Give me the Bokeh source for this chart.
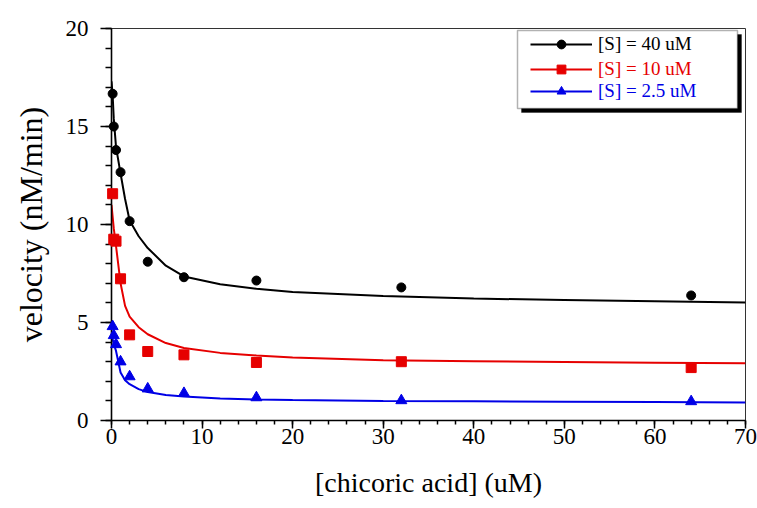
from bokeh.plotting import figure
from bokeh.models import Range1d, SingleIntervalTicker, Legend, LegendItem, BoxAnnotation
from bokeh.embed import file_html
from bokeh.resources import INLINE

# measured points: [chicoric acid] (uM) vs velocity (nM/min)
conc = [0.125, 0.25, 0.5, 1, 2, 4, 8, 16, 32, 64]
v_40 = [16.67, 15.0, 13.8, 12.67, 10.17, 8.1, 7.31, 7.14, 6.79, 6.38]
v_10 = [11.57, 9.25, 9.15, 7.23, 4.37, 3.52, 3.35, 2.96, 3.0, 2.7]
v_2_5 = [4.8, 4.34, 3.88, 3.0, 2.24, 1.62, 1.39, 1.17, 1.02, 0.97]

# fitted curves
fit_x = [0, 0.125, 0.25, 0.5, 1, 1.5, 2, 3, 4, 6, 8, 12, 16, 20, 30, 40, 50, 60, 70]
fit_40 = [17.3, 16.6, 15.4, 13.95, 12.6, 11.3, 10.2, 9.4, 8.8, 7.9, 7.35, 6.95, 6.72, 6.55,
          6.35, 6.22, 6.15, 6.08, 6.02]
fit_10 = [11.0, 10.4, 9.8, 8.9, 7.0, 5.85, 5.3, 4.76, 4.4, 3.95, 3.7, 3.45, 3.32, 3.22,
          3.07, 3.02, 2.98, 2.95, 2.92]
fit_2_5 = [4.4, 4.15, 3.9, 3.55, 2.45, 2.05, 1.85, 1.6, 1.45, 1.3, 1.22, 1.12, 1.07, 1.04,
           1.0, 0.98, 0.96, 0.94, 0.92]

labels = ["[S] = 40 uM", "[S] = 10 uM", "[S] = 2.5 uM"]
colors = ["#000000", "#e60000", "#0000e6"]
markers = ["circle", "square", "triangle"]
sizes = [9, 10, 11]

SERIF = "Liberation Serif"

p = figure(width=757, height=508, output_backend="svg", toolbar_location=None,
           x_range=Range1d(0, 70), y_range=Range1d(0, 20),
           min_border_left=111, min_border_right=12, min_border_top=28, min_border_bottom=88)
p.xgrid.visible = False
p.ygrid.visible = False
p.background_fill_color = "white"
p.outline_line_color = "#333333"
p.outline_line_width = 1

p.xaxis.ticker = SingleIntervalTicker(interval=10, num_minor_ticks=5)
p.yaxis.ticker = SingleIntervalTicker(interval=5, num_minor_ticks=5)

for ax in (p.xaxis[0], p.yaxis[0]):
    ax.axis_line_width = 1.6
    ax.axis_line_color = "black"
    ax.major_tick_line_width = 1.5
    ax.minor_tick_line_width = 1.5
    ax.major_tick_in = 0
    ax.minor_tick_in = 0
    ax.major_label_text_font = SERIF
    ax.major_label_text_font_size = "23px"
    ax.major_label_text_color = "black"
    ax.axis_label_text_font = SERIF
    ax.axis_label_text_font_style = "normal"
    ax.axis_label_text_color = "black"

p.xaxis.axis_label = "[chicoric acid] (uM)"
p.xaxis.axis_label_text_font_size = "28px"
p.xaxis.major_tick_out = 8
p.xaxis.minor_tick_out = 4
p.xaxis.major_label_standoff = 0
p.xaxis.axis_label_standoff = 20

p.yaxis.axis_label = "velocity (nM/min)"
p.yaxis.axis_label_text_font_size = "32px"
p.yaxis.major_tick_out = 11
p.yaxis.minor_tick_out = 6
p.yaxis.major_label_standoff = 12
p.yaxis.axis_label_standoff = 14

series = [v_40, v_10, v_2_5]
fits = [fit_40, fit_10, fit_2_5]
rends = []
for ys, fy, c, m, s in zip(series, fits, colors, markers, sizes):
    lr = p.line(fit_x, fy, line_color=c, line_width=2)
    sr = p.scatter(conc, ys, marker=m, size=s, fill_color=c, line_color=c, level="overlay")
    rends.append([lr, sr])

# legend box with drop shadow (screen units relative to the frame)
shadow = BoxAnnotation(left=410, right=630, top=386, bottom=308,
                       left_units="screen", right_units="screen",
                       top_units="screen", bottom_units="screen",
                       fill_color="black", fill_alpha=1, line_color="black", line_width=1)
box = BoxAnnotation(left=406, right=626, top=390, bottom=312,
                    left_units="screen", right_units="screen",
                    top_units="screen", bottom_units="screen",
                    fill_color="white", fill_alpha=1, line_color="black", line_width=1.5)
p.add_layout(shadow)
p.add_layout(box)

leg_bottoms = [365, 340, 318]
for lab, c, rr, yb in zip(labels, colors, rends, leg_bottoms):
    leg = Legend(items=[LegendItem(label=lab, renderers=rr)], location=(419, yb),
                 padding=0, margin=0, spacing=0, border_line_color=None,
                 background_fill_alpha=0, glyph_width=62, glyph_height=22,
                 label_height=22, label_standoff=6, label_text_font=SERIF,
                 label_text_font_size="19px", label_text_color=c)
    p.add_layout(leg)

open("out.html", "w").write(file_html(p, INLINE))
